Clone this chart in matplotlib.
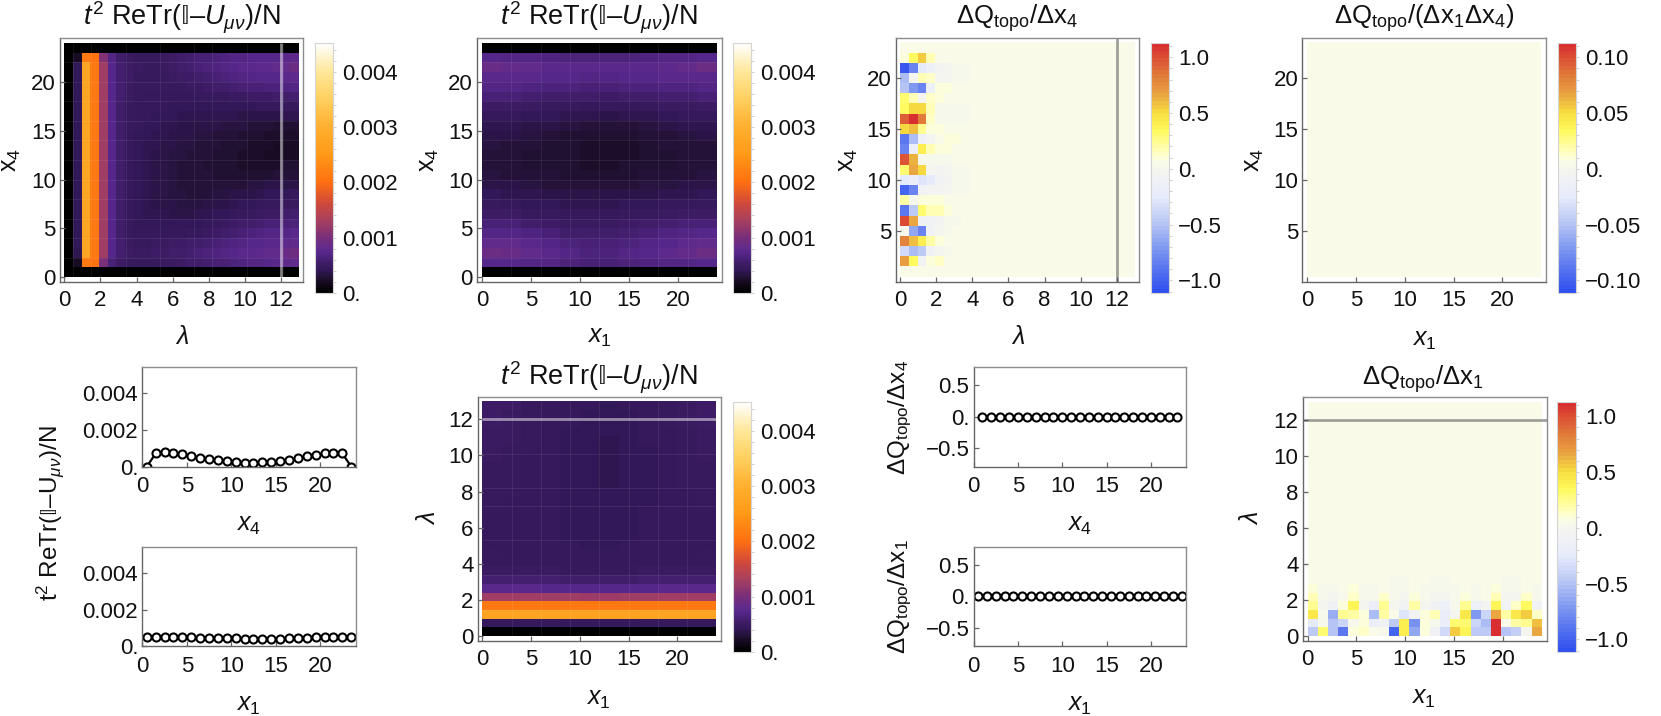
import matplotlib
matplotlib.use('Agg')
import matplotlib.pyplot as plt
from matplotlib.colors import LinearSegmentedColormap, Normalize
from matplotlib.cm import ScalarMappable
from matplotlib.ticker import MultipleLocator
import numpy as np

plt.rcParams['font.family'] = ['Liberation Sans', 'DejaVu Sans']
plt.rcParams['mathtext.fontset'] = 'custom'
plt.rcParams['mathtext.rm'] = 'Liberation Sans'
plt.rcParams['mathtext.it'] = 'Liberation Sans:italic'
plt.rcParams['mathtext.bf'] = 'Liberation Sans:bold'
plt.rcParams['mathtext.fallback'] = 'stix'

W, H = 1661, 716

# action density, lambda vs x4 (units 1e-5), rows x4 = 0..23, columns lambda bins
density_lam_x4 = [
    [0] * 27,
    [0,20,215,205,100,60,52,48,47,47,48,49,50,52,54,56,58,60,62,64,66,68,70,72,74,78,82],
    [0,38,275,210,125,72,58,52,50,50,51,52,54,56,58,60,63,66,69,72,74,76,78,80,82,86,92],
    [0,40,275,212,125,72,57,50,48,48,49,50,51,52,54,56,58,60,63,66,69,71,73,75,76,78,82],
    [0,42,275,212,125,72,56,48,45,44,44,44,44,45,46,48,50,52,55,58,61,64,66,68,68,70,74],
    [0,42,275,212,125,72,55,46,42,41,40,40,40,40,41,42,44,46,49,52,54,56,58,60,60,62,64],
    [0,42,275,212,125,72,55,45,41,39,38,37,36,36,36,37,38,40,42,44,46,48,50,52,53,55,57],
    [0,42,275,212,125,72,55,44,40,38,36,35,34,33,33,33,34,35,36,38,40,42,44,46,47,48,50],
    [0,42,275,212,125,72,55,44,40,38,36,34,33,32,31,31,31,32,33,34,35,36,38,40,41,42,43],
    [0,42,275,212,125,72,55,44,40,38,36,34,32,31,30,30,30,30,30,30,31,32,33,34,35,36,36],
    [0,42,275,212,125,72,55,44,40,38,36,34,32,31,30,29,29,28,28,28,28,28,28,28,29,30,31],
    [0,42,275,212,125,72,55,44,40,38,36,34,32,31,30,29,28,27,27,26,25,24,24,24,25,26,26],
    [0,42,275,212,125,72,55,44,41,38,36,35,33,32,31,30,29,28,27,26,25,24,23,22,22,22,22],
    [0,42,275,212,125,72,55,45,41,39,37,36,34,33,32,31,30,29,28,27,26,25,24,23,22,22,22],
    [0,42,275,212,125,72,55,45,42,40,38,37,36,35,34,33,32,31,30,29,28,27,26,25,24,24,24],
    [0,42,275,212,125,72,55,46,43,41,40,38,37,36,36,35,35,34,33,33,32,31,30,29,28,27,27],
    [0,42,275,212,125,72,56,47,44,43,42,41,40,39,38,38,38,38,37,37,36,36,36,36,36,37,38],
    [0,42,275,212,125,72,56,48,45,44,43,43,42,42,42,42,42,42,42,42,42,42,43,43,44,46,48],
    [0,42,275,212,125,72,57,49,46,45,44,44,44,45,45,46,46,47,48,49,50,51,52,53,54,56,59],
    [0,42,275,212,125,72,57,50,47,46,46,46,47,48,49,50,52,54,56,58,60,61,62,63,64,66,68],
    [0,42,275,212,125,72,58,51,48,47,47,48,49,51,53,55,57,60,63,66,68,70,71,72,73,75,78],
    [0,40,275,210,125,72,58,52,49,48,48,49,51,54,57,60,63,66,69,72,74,76,77,78,80,84,88],
    [0,20,215,205,105,68,56,50,47,47,48,50,52,55,58,60,62,64,66,68,70,71,72,72,73,75,78],
    [0] * 27,
]

# action density, x1 vs x4 (units 1e-5), rows x4 = 0..23, columns two lattice sites wide
density_x1_x4 = [
    [0] * 12,
    [72,72,70,68,64,62,62,64,66,68,70,72],
    [88,86,82,76,68,64,64,68,72,78,84,88],
    [80,80,76,70,63,60,60,64,68,72,78,80],
    [70,70,66,60,56,54,55,58,62,66,70,72],
    [60,60,56,52,50,49,50,52,55,58,60,62],
    [52,52,48,46,44,43,44,46,48,50,52,53],
    [46,45,42,40,39,38,39,40,42,44,45,46],
    [40,39,37,35,34,34,34,35,36,38,39,40],
    [35,34,33,31,30,30,30,31,32,33,34,35],
    [32,31,30,29,28,27,27,28,29,30,31,32],
    [30,29,28,27,26,25,25,26,27,28,29,30],
    [30,29,28,27,26,24,24,25,26,28,29,30],
    [32,31,30,28,26,25,24,25,27,29,30,31],
    [35,34,32,30,28,27,26,27,29,31,33,34],
    [39,38,36,34,32,30,30,31,33,35,37,38],
    [45,44,42,40,38,37,36,37,39,41,43,44],
    [52,51,49,47,46,45,44,45,47,49,50,51],
    [60,60,58,56,55,54,53,54,56,58,59,60],
    [68,68,66,64,63,62,62,63,65,66,67,68],
    [76,76,74,72,71,70,70,71,72,74,75,76],
    [86,84,80,76,74,74,74,74,76,78,84,88],
    [72,70,68,66,65,64,64,65,66,68,70,72],
    [0] * 12,
]

# action density, x1 vs lambda (units 1e-5), rows lambda bins
density_x1_lam = [
    [0] * 12,
    [45,45,45,45,44,44,44,44,45,45,45,45],
    [272,272,272,272,270,270,270,270,272,272,272,272],
    [212,212,212,212,211,211,211,211,212,212,212,212],
    [126,126,126,125,125,124,124,125,125,126,126,126],
    [74,74,74,73,73,72,72,73,73,74,74,74],
    [58,58,57,57,56,56,56,56,57,57,58,58],
    [50,50,49,49,48,48,48,48,49,49,50,50],
    [47,46,46,45,45,44,44,45,45,46,46,47],
    [46,45,44,44,43,43,43,43,44,44,45,46],
    [45,44,44,43,43,42,42,43,43,44,45,45],
    [45,44,43,43,42,42,42,42,43,43,44,45],
    [45,44,43,43,42,42,42,42,43,43,44,45],
    [45,44,43,43,42,42,41,42,43,43,44,45],
    [46,45,43,43,42,41,41,42,43,43,44,46],
    [46,45,44,43,42,41,40,41,42,43,45,46],
    [47,46,44,43,41,41,40,41,42,43,45,47],
    [47,46,44,43,41,40,39,41,42,43,46,47],
    [48,47,45,43,41,40,39,41,42,44,46,48],
    [48,47,45,43,41,40,39,40,42,44,47,48],
    [49,48,45,43,41,40,39,40,42,44,47,49],
    [49,48,46,43,42,40,39,40,42,45,47,49],
    [50,49,46,43,42,40,39,41,43,45,48,50],
    [50,49,47,44,42,41,40,41,43,45,48,50],
    [51,50,47,44,43,41,40,42,44,46,49,51],
    [51,50,48,45,43,42,41,42,44,46,50,51],
    [52,51,48,46,44,43,42,43,45,47,50,52],
]

# charge density, first eight lambda bins, rows x4 = 0.5..22.5
charge_background = 0.05
charge_lam_x4 = [
    [.05,.05,.05,.05,.05,.05,.05,.05],
    [.70,.35,-.08,.10,.12,.06,.05,.05],
    [-.35,-.55,-.45,-.12,-.02,.03,.05,.05],
    [.80,.60,.40,.20,.08,.05,.05,.05],
    [.02,-.65,-.80,-.12,-.02,.04,.05,.05],
    [1.0,.65,-.10,-.08,-.04,.03,.04,.05],
    [-.90,-.45,.30,.15,.18,.08,.05,.05],
    [.20,.03,.10,.10,.08,.06,.05,.05],
    [-1.0,-.80,-.08,-.06,-.05,-.01,.03,.04],
    [-.25,-.20,-.30,-.25,-.07,-.04,.01,.04],
    [.30,.65,.50,-.02,-.04,-.02,.02,.04],
    [.98,.62,.03,.02,.04,.04,.05,.05],
    [-.80,-.20,.40,.15,.10,.08,.07,.06],
    [-.90,-.55,-.15,-.04,.06,.09,.08,.06],
    [.50,.60,.25,.10,.09,.06,.05,.05],
    [.95,1.10,.85,.12,.02,.02,.03,.04],
    [.35,.50,.50,.15,.02,.02,.03,.04],
    [.30,.18,-.02,.12,.10,.06,.05,.05],
    [-.50,-.70,-.80,-.15,.10,.08,.06,.05],
    [-.55,-.02,.15,.12,-.02,-.01,.01,.04],
    [-1.05,-.80,-.25,-.15,-.04,-.02,.01,.04],
    [.10,.35,.55,.15,.07,.05,.05,.05],
    [.05,.05,.05,.05,.05,.05,.05,.05],
]

# charge density, x1 bins vs first seven lambda bins
charge_x1_lam = [
    [-.45,.30,-.50,-.90,.08,.12,.06,.01,-1.0,.40,-.65,.10,-.12,-.35,.55,.38,-.45,-.45,1.10,-.50,-.42,-.02,.65],
    [-.25,.03,-.50,-.40,.03,.08,-.20,-.10,-.45,.40,-.75,.08,.02,-.20,.30,.30,-.40,-.55,1.10,.05,.20,.25,.60],
    [.45,.02,-.60,.25,.20,.10,-.55,.20,.06,-.30,-.08,.10,.15,-.20,-.02,.45,-.70,-.40,.65,.20,.45,.55,.12],
    [.25,-.01,-.12,.10,.38,0,-.20,.25,0,-.08,.20,-.01,-.10,-.15,.02,.22,-.15,-.03,.38,-.08,.12,.35,-.10],
    [.15,.01,.0,.03,.14,.01,.01,.12,.01,.0,.11,.03,.0,.0,.01,.10,.01,.05,.18,.0,.0,.13,.01],
    [.11,.03,.03,.05,.09,.03,.03,.07,.02,.02,.07,.04,.02,.02,.04,.06,.03,.05,.09,.02,.02,.07,.03],
    [.07,.05,.05,.05,.07,.05,.05,.06,.04,.04,.06,.05,.04,.04,.05,.05,.05,.05,.06,.04,.04,.05,.05],
]

# line cuts at lambda = 12
x_sites = [0.5, 1.5, 2.5, 3.5, 4.5, 5.5, 6.5, 7.5, 8.5, 9.5, 10.5, 11.5,
           12.5, 13.5, 14.5, 15.5, 16.5, 17.5, 18.5, 19.5, 20.5, 21.5, 22.5, 23.5]
cut_x4 = [0, .00072, .0008, .00075, .00068, .00059, .0005, .00042, .00035, .0003, .00026, .00022,
          .00022, .00024, .00026, .00031, .00039, .00048, .00057, .00064, .00072, .00077, .00072, 0]
cut_x1 = [.00051, .00051, .0005, .0005, .0005, .00049, .00048, .00048, .00046, .00045, .00043, .00042,
          .0004, .0004, .00039, .00041, .00043, .00045, .00047, .00049, .0005, .00051, .00051, .00051]
charge_sites_x4 = [1, 2, 3, 4, 5, 6, 7, 8, 9, 10, 11, 12, 13, 14, 15, 16, 17, 18, 19, 20, 21, 22, 23]
charge_cut_x4 = [0] * 23
charge_cut_x1 = [0] * 24

sunset = LinearSegmentedColormap.from_list('sunset', [
    (0.0, '#000000'), (0.044, '#180c24'), (0.066, '#26133c'), (0.09, '#33185a'),
    (0.11, '#3b1b62'), (0.155, '#55278a'), (0.178, '#622b8c'), (0.222, '#7a2f78'),
    (0.289, '#a8405f'), (0.356, '#d0483c'), (0.444, '#ff7010'), (0.556, '#ff9a18'),
    (0.667, '#ffb030'), (0.778, '#ffd060'), (0.889, '#ffe89a'), (1.0, '#ffffff')], N=160)
thermo = LinearSegmentedColormap.from_list('thermo', [
    (0.0, '#3050ee'), (0.165, '#7a94f0'), (0.275, '#b8c6f5'), (0.385, '#e8ecfb'),
    (0.495, '#f5f5f0'), (0.53, '#fafce6'), (0.56, '#ffffc0'), (0.65, '#fffa60'),
    (0.72, '#f8e040'), (0.79, '#eaa840'), (0.875, '#e07a3a'), (1.0, '#d82e30')], N=64)

FS = 16
EDGE = '#666666'
sunset_norm = Normalize(0, 0.00453)
charge_norm = Normalize(-1.11, 1.13)
charge2_norm = Normalize(-0.111, 0.113)


def add_ax(fig, l, t, r, b):
    return fig.add_axes([l / W, 1 - b / H, (r - l) / W, (b - t) / H])


def put_text(fig, x, y, s, size=FS, rotation=0):
    fig.text(x / W, 1 - y / H, s, fontsize=size, rotation=rotation, ha='center', va='center', color='#111111')


def style_ax(ax, xlim, ylim, xticks, yticks, ylabels=None):
    ax.set_xlim(*xlim)
    ax.set_ylim(*ylim)
    ax.set_xticks(xticks)
    ax.set_yticks(yticks)
    if ylabels is not None:
        ax.set_yticklabels(ylabels)
    ax.tick_params(direction='in', length=3.5, width=0.9, color=EDGE, labelsize=FS, labelcolor='#111111')
    ax.tick_params(axis='x', pad=6)
    ax.tick_params(axis='y', pad=3)
    for s in ax.spines.values():
        s.set_color(EDGE)
        s.set_linewidth(1.0)
    ax.spines['top'].set_color('#8c8c8c')
    ax.spines['right'].set_color('#8c8c8c')


def add_colorbar(fig, l, t, r, b, cmap, norm, ticks, labels, minor):
    cax = add_ax(fig, l, t, r, b)
    cb = fig.colorbar(ScalarMappable(norm=norm, cmap=cmap), cax=cax)
    cb.set_ticks(ticks)
    cb.set_ticklabels(labels)
    cax.yaxis.set_minor_locator(MultipleLocator(minor))
    cax.tick_params(which='both', length=2.5, width=0.7, color='#cfcfcf', labelsize=FS, pad=4, labelcolor='#111111')
    cb.outline.set_edgecolor('#d4d4d4')
    cb.outline.set_linewidth(0.8)
    return cb


def mesh_lines(ax, xs, ys, x0, x1, y0, y1):
    ax.vlines(xs, y0, y1, color='white', alpha=0.07, lw=0.8)
    ax.hlines(ys, x0, x1, color='white', alpha=0.07, lw=0.8)


fig = plt.figure(figsize=(W / 100, H / 100), dpi=100, facecolor='white')

density_title = r'$t^{2}$ ReTr($\mathrm{𝕀}$–$U_{\mu\nu}$)/N'
lam_edges = np.linspace(0, 13, 28)
site_edges = np.linspace(0, 24, 25)
block_edges = np.linspace(0, 24, 13)
sun_ticks = [0, 0.001, 0.002, 0.003, 0.004]
sun_labels = ['0.', '0.001', '0.002', '0.003', '0.004']
q_ticks = [-1, -0.5, 0, 0.5, 1]
q_labels = ['−1.0', '−0.5', '0.', '0.5', '1.0']
q2_ticks = [-0.1, -0.05, 0, 0.05, 0.1]
q2_labels = ['−0.10', '−0.05', '0.', '0.05', '0.10']
TS = 19.5
QS = 18.5
LS = 18

# top row, density lambda vs x4
ax = add_ax(fig, 60, 38, 303, 282)
ax.pcolormesh(lam_edges, site_edges, np.array(density_lam_x4) * 1e-5, cmap=sunset, norm=sunset_norm)
mesh_lines(ax, [0.5, 1.45, 3.4, 5.3, 7.2, 8.2, 10.1, 12.1], [2, 4, 6, 8, 10, 12, 14, 16, 18, 20, 22], 0, 13, 0, 24)
ax.vlines(12, 0, 24, color='white', alpha=0.5, lw=2)
style_ax(ax, (-0.24, 13.22), (-0.5, 24.5), [0, 2, 4, 6, 8, 10, 12], [0, 5, 10, 15, 20])
add_colorbar(fig, 315, 42.7, 333, 292.7, sunset, sunset_norm, sun_ticks, sun_labels, 0.0002)
put_text(fig, 181.7, 18, density_title, TS)
put_text(fig, 11, 160, r'$\mathrm{x}_{4}$', LS, 90)
put_text(fig, 181.7, 337, r'$\lambda$', LS)

# top row, density x1 vs x4
ax = add_ax(fig, 477, 38, 722, 282)
ax.pcolormesh(block_edges, site_edges, np.array(density_x1_x4) * 1e-5, cmap=sunset, norm=sunset_norm)
mesh_lines(ax, [3, 6, 9, 12, 15, 18, 21], [2, 4, 6, 8, 10, 12, 14, 16, 18, 20, 22], 0, 24, 0, 24)
style_ax(ax, (-0.5, 24.5), (-0.5, 24.5), [0, 5, 10, 15, 20], [0, 5, 10, 15, 20])
add_colorbar(fig, 733, 42.7, 751, 292.7, sunset, sunset_norm, sun_ticks, sun_labels, 0.0002)
put_text(fig, 599, 18, density_title, TS)
put_text(fig, 429, 160, r'$\mathrm{x}_{4}$', LS, 90)
put_text(fig, 599, 337, r'$x_{1}$', LS)

# top row, charge lambda vs x4
q_grid = np.full((23, 27), charge_background)
q_grid[:, :8] = charge_lam_x4
ax = add_ax(fig, 895.7, 38, 1139, 282)
ax.pcolormesh(lam_edges, np.linspace(0.5, 23.5, 24), q_grid, cmap=thermo, norm=charge_norm)
ax.axvline(12, color='#555555', alpha=0.55, lw=2)
style_ax(ax, (-0.255, 13.24), (-0.03, 23.93), [0, 2, 4, 6, 8, 10, 12], [5, 10, 15, 20])
add_colorbar(fig, 1151, 42.7, 1169.3, 292.7, thermo, charge_norm, q_ticks, q_labels, 0.1)
put_text(fig, 1016.7, 18, r'$\Delta\mathrm{Q}_{\mathrm{topo}}/\Delta\mathrm{x}_{4}$', QS)
put_text(fig, 848, 160, r'$\mathrm{x}_{4}$', LS, 90)
put_text(fig, 1017.7, 337, r'$\lambda$', LS)

# top row, charge x1 vs x4, flat at this scale
q2_value = [[0.005] * 23] * 23
ax = add_ax(fig, 1302.3, 38, 1546.3, 282)
ax.pcolormesh(np.linspace(0, 24, 24), np.linspace(0.5, 23.5, 24), np.array(q2_value), cmap=thermo, norm=charge2_norm)
style_ax(ax, (-0.5, 24.5), (-0.03, 23.93), [0, 5, 10, 15, 20], [5, 10, 15, 20])
add_colorbar(fig, 1557.7, 42.7, 1576, 292.7, thermo, charge2_norm, q2_ticks, q2_labels, 0.01)
put_text(fig, 1424, 18, r'$\Delta\mathrm{Q}_{\mathrm{topo}}/(\Delta\mathrm{x}_{1}\Delta\mathrm{x}_{4})$', QS)
put_text(fig, 1254, 160, r'$\mathrm{x}_{4}$', LS, 90)
put_text(fig, 1424, 340, r'$x_{1}$', LS)

# bottom row, density x1 vs lambda
ax = add_ax(fig, 477.6, 396.7, 721, 640.7)
ax.pcolormesh(block_edges, lam_edges, np.array(density_x1_lam) * 1e-5, cmap=sunset, norm=sunset_norm)
mesh_lines(ax, [3, 6, 9, 12, 15, 18, 21], [1.45, 3.4, 5.3, 7.2, 8.2, 10.1], 0, 24, 0, 13)
ax.hlines(12, 0, 24, color='white', alpha=0.5, lw=2)
style_ax(ax, (-0.5, 24.5), (-0.26, 13.25), [0, 5, 10, 15, 20], [0, 2, 4, 6, 8, 10, 12])
add_colorbar(fig, 732.8, 401.7, 751, 651.7, sunset, sunset_norm, sun_ticks, sun_labels, 0.0002)
put_text(fig, 598.6, 378, density_title, TS)
put_text(fig, 427.6, 518, r'$\lambda$', LS, 90)
put_text(fig, 598.6, 699, r'$x_{1}$', LS)

# bottom row, charge x1 vs lambda
q_grid = np.full((27, 23), charge_background)
q_grid[:7, :] = charge_x1_lam
ax = add_ax(fig, 1302.7, 397, 1546.7, 640.7)
ax.pcolormesh(np.linspace(0, 24, 24), lam_edges, q_grid, cmap=thermo, norm=charge_norm)
ax.axhline(12, color='#555555', alpha=0.55, lw=2)
style_ax(ax, (-0.5, 24.5), (-0.26, 13.25), [0, 5, 10, 15, 20], [0, 2, 4, 6, 8, 10, 12])
add_colorbar(fig, 1557.3, 401.7, 1576, 651.7, thermo, charge_norm, q_ticks, q_labels, 0.1)
put_text(fig, 1423, 379, r'$\Delta\mathrm{Q}_{\mathrm{topo}}/\Delta\mathrm{x}_{1}$', QS)
put_text(fig, 1251, 518, r'$\lambda$', LS, 90)
put_text(fig, 1423, 698, r'$x_{1}$', LS)


def line_panel(t, b, l, r, xs, ys, ylim, yticks, ylabels):
    ax = add_ax(fig, l, t, r, b)
    ax.plot(xs, ys, color='black', lw=1.6, marker='o', ms=5.8, mfc='white', mec='black', mew=1.5)
    style_ax(ax, (0, 24), ylim, [0, 5, 10, 15, 20], yticks, ylabels)
    ax.tick_params(axis='x', pad=7)
    return ax


# line cuts
dens_ticks = [0, 0.002, 0.004]
dens_labels = ['0.', '0.002', '0.004']
line_panel(367.3, 466.7, 142.3, 355.7, x_sites, cut_x4, (0, 0.00542), dens_ticks, dens_labels)
line_panel(547.3, 646.3, 142.3, 355.7, x_sites, cut_x1, (0, 0.00542), dens_ticks, dens_labels)
put_text(fig, 248, 525, r'$x_{4}$', LS)
put_text(fig, 248, 705, r'$x_{1}$', LS)
put_text(fig, 50, 513, r'$\mathrm{t}^{2}$ ReTr($\mathrm{𝕀}$–$\mathrm{U}_{\mu\nu}$)/N', 17.5, 90)

cut_ticks = [-0.5, 0, 0.5]
cut_labels = ['−0.5', '0.', '0.5']
line_panel(367.3, 466.7, 973.6, 1186.3, charge_sites_x4, charge_cut_x4, (-0.79, 0.78), cut_ticks, cut_labels)
line_panel(547.3, 646.3, 973.6, 1186.3, x_sites, charge_cut_x1, (-0.79, 0.78), cut_ticks, cut_labels)
put_text(fig, 1079, 525, r'$x_{4}$', LS)
put_text(fig, 1079, 705, r'$x_{1}$', LS)
put_text(fig, 900.6, 417, r'$\Delta\mathrm{Q}_{\mathrm{topo}}/\Delta\mathrm{x}_{4}$', 17.5, 90)
put_text(fig, 900.6, 597, r'$\Delta\mathrm{Q}_{\mathrm{topo}}/\Delta\mathrm{x}_{1}$', 17.5, 90)

fig.savefig('out.png', dpi=100)
plt.close('all')
